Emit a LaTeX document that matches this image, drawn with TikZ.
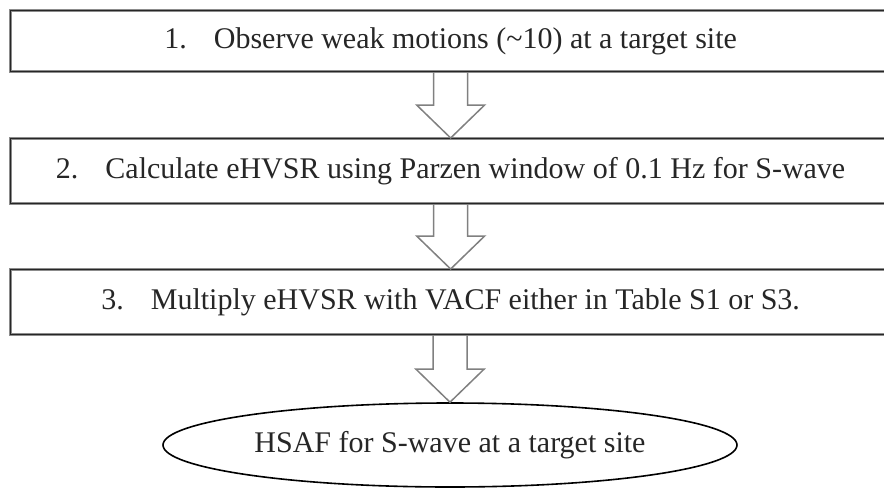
\documentclass[tikz,border=0pt]{standalone}
\usepackage{fontspec}
\setmainfont{Liberation Serif}
\usetikzlibrary{shapes.geometric,calc}
% hollow block arrow pointing down from #1 to #2 (shaft half-width 17, head half-width 34)
\newcommand\hollowdown[2]{%
  \draw[hollowarrow]
    ($(#2 |- #1)+(-17,0)$) -- ($(#2)+(-17,-33)$) -- ($(#2)+(-34,-33)$) -- (#2)
    -- ($(#2)+(34,-33)$) -- ($(#2)+(17,-33)$) -- ($(#2 |- #1)+(17,0)$);}
\begin{document}
\begin{tikzpicture}[x=1pt,y=-1pt,
  every node/.style={font=\fontsize{30}{36}\selectfont},
  stepbox/.style={anchor=north west, minimum width=880pt, inner sep=0pt,
    preaction={draw=black!45, line width=3.2pt},
    draw=black!85, line width=1.3pt, text=black!85},
  result/.style={ellipse, draw=black, line width=1.6pt, minimum width=574pt,
    minimum height=84pt, inner sep=0pt, text=black!85},
  hollowarrow/.style={draw=black!50, line width=1.5pt, line join=miter}
]
\useasboundingbox (0,0) rectangle (884,490);

% the three processing steps
\node[stepbox, minimum height=61pt] (s1) at (10,10)
  {1.\hspace{0.9em}Observe weak motions (\symbol{"7E}10) at a target site};
\node[stepbox, minimum height=65pt] (s2) at (10,138)
  {2.\hspace{0.9em}Calculate eHVSR using Parzen window of 0.1 Hz for S-wave};
\node[stepbox, minimum height=65pt] (s3) at (10,269)
  {3.\hspace{0.9em}Multiply eHVSR with VACF either in Table S1 or S3.};

% final outcome
\node[result] (out) at (450,445) {HSAF for S-wave at a target site};

% hollow block arrows between the stages
\hollowdown{s1.south}{s2.north}
\hollowdown{s2.south}{s3.north}
\hollowdown{s3.south}{out.north}
\end{tikzpicture}
\end{document}
